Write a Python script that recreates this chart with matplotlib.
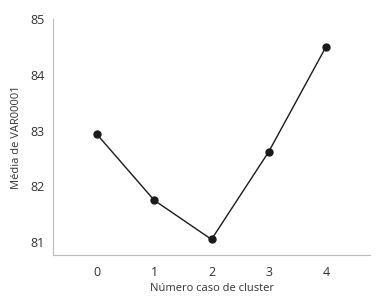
import matplotlib
matplotlib.use('Agg')
import matplotlib.pyplot as plt

plt.rcParams['font.family'] = ['Open Sans', 'DejaVu Sans']

clusters = [0, 1, 2, 3, 4]
means = [82.93, 81.75, 81.05, 82.62, 84.50]

fig = plt.figure(figsize=(3.78, 3.04), dpi=100)
ax = fig.add_axes([53 / 378, 1 - 255 / 304, 317 / 378, 236 / 304])
ax.plot(clusters, means, color='#1a1a1a', linewidth=1.0, marker='o', markersize=5)
ax.set_xlim(-0.77, 4.77)
ax.set_ylim(80.77, 85.0)
ax.set_xticks(clusters)
ax.set_yticks([81, 82, 83, 84, 85])
ax.tick_params(length=0, labelsize=9, colors='#333333')
ax.tick_params(axis='y', pad=6)
ax.tick_params(axis='x', pad=8)
for s in ['top', 'right']:
    ax.spines[s].set_visible(False)
for s in ['left', 'bottom']:
    ax.spines[s].set_color('#bbbbbb')
    ax.spines[s].set_linewidth(0.8)
ax.set_xlabel('Número caso de cluster', fontsize=8, color='#333333', labelpad=3)
ax.set_ylabel('Média de VAR00001', fontsize=8, color='#333333', labelpad=6)
fig.savefig('out.png', dpi=100)
